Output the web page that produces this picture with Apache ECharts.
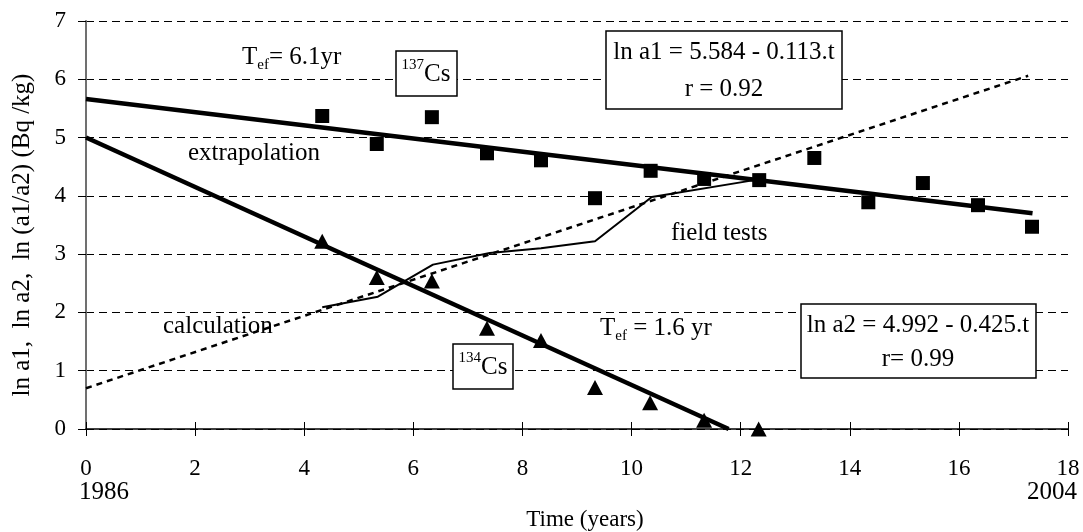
<!DOCTYPE html>
<html>
<head>
<meta charset="utf-8">
<script src="https://cdn.jsdelivr.net/npm/echarts@6/dist/echarts.min.js"></script>
<style>
html,body{margin:0;padding:0;background:#fff;}
#chart{width:1083px;height:532px;}
</style>
</head>
<body>
<div id="chart"></div>
<script>
// measured points (years after 1986)
var tMeas = [4.33, 5.33, 6.34, 7.35, 8.34, 9.33, 10.35, 11.33, 12.34, 13.35, 14.34, 15.34, 16.35, 17.34];
var lnA1 = [5.37, 4.89, 5.35, 4.73, 4.61, 3.96, 4.43, 4.29, 4.27, 4.65, 3.89, 4.22, 3.84, 3.47];
var tA2 = [4.33, 5.33, 6.34, 7.35, 8.34, 9.33, 10.34, 11.33, 12.33];
var lnA2 = [3.22, 2.60, 2.54, 1.73, 1.52, 0.71, 0.45, 0.15, 0.0];
// fitted lines at their ends
var fit1T = [0, 17.35];
var fit1Y = [5.66, 3.70];
var fit2T = [0, 11.78];
var fit2Y = [5.0, 0.0];
// calculation (dotted) and field tests (thin)
var calcT = [0, 17.27];
var calcY = [0.70, 6.06];
var fieldT = [4.33, 5.35, 6.36, 7.40, 8.34, 9.33, 10.37, 12.25];
var fieldY = [2.09, 2.27, 2.82, 3.02, 3.10, 3.22, 3.98, 4.27];
var yearLabels = ['1986', '2004'];

var FONT = 'Liberation Serif';

function pairs(xs, ys) {
  return xs.map(function (x, i) { return [x, ys[i]]; });
}

var sizeTxt = 25;
var rich = {
  m: {fontFamily: FONT, fontSize: sizeTxt, lineHeight: 32, color: '#000'},
  sub: {fontFamily: FONT, fontSize: 15, verticalAlign: 'bottom', color: '#000'},
  sup: {fontFamily: FONT, fontSize: 15, verticalAlign: 'top', color: '#000'}
};

function txt(x, y, text, align) {
  return {
    type: 'text', x: x, y: y, z: 100,
    style: {text: text, rich: rich, align: align || 'left', verticalAlign: 'middle',
      fontFamily: FONT, fontSize: sizeTxt, fill: '#000'}
  };
}
function box(x, y, w, h) {
  return {
    type: 'rect', z: 90,
    shape: {x: x, y: y, width: w, height: h},
    style: {fill: '#fff', stroke: '#000', lineWidth: 1.5}
  };
}

var option = {
  backgroundColor: '#fff',
  animation: false,
  textStyle: {fontFamily: FONT},
  grid: {left: 86, right: 15, top: 21, bottom: 103, outerBoundsMode: 'none', containLabel: false},
  xAxis: [{
    type: 'value', min: 0, max: 18, interval: 2,
    name: 'Time (years)', nameLocation: 'middle', nameGap: 79,
    nameTextStyle: {fontFamily: FONT, fontSize: 23, color: '#000', padding: [0, 0, 0, 16]},
    axisLine: {onZero: false, lineStyle: {color: '#000', width: 1.5}},
    axisTick: {length: 7, lineStyle: {color: '#000', width: 1}},
    axisLabel: {margin: 28, fontFamily: FONT, fontSize: 23, color: '#000'},
    splitLine: {show: false}
  }, {
    type: 'value', min: 0, max: 18, interval: 2, position: 'bottom',
    axisLine: {show: false},
    axisTick: {inside: true, length: 7, lineStyle: {color: '#000', width: 1}},
    axisLabel: {show: false},
    splitLine: {show: false}
  }],
  yAxis: [{
    type: 'value', min: 0, max: 7, interval: 1,
    name: 'ln a1,  ln a2,  ln (a1/a2) (Bq /kg)', nameLocation: 'middle', nameGap: 51,
    nameTextStyle: {fontFamily: FONT, fontSize: 25, color: '#000', padding: [0, 20, 0, 0]},
    axisLine: {onZero: false, lineStyle: {color: '#000', width: 1.5}},
    axisTick: {length: 8, lineStyle: {color: '#000', width: 1}},
    axisLabel: {margin: 20, fontFamily: FONT, fontSize: 23, color: '#000'},
    splitLine: {lineStyle: {color: '#000', width: 1, type: [8, 5]}}
  }, {
    type: 'value', min: 0, max: 7, interval: 1, position: 'right',
    axisLine: {show: true, lineStyle: {color: '#808080', width: 1.5}},
    axisTick: {show: false},
    axisLabel: {show: false},
    splitLine: {show: false}
  }],
  series: [{
    name: 'fit137', type: 'line', data: pairs(fit1T, fit1Y),
    showSymbol: false, symbol: 'none',
    lineStyle: {color: '#000', width: 4.5}, z: 3
  }, {
    name: 'fit134', type: 'line', data: pairs(fit2T, fit2Y),
    showSymbol: false, symbol: 'none',
    lineStyle: {color: '#000', width: 4.5}, z: 3
  }, {
    name: 'calculation', type: 'line', data: pairs(calcT, calcY),
    showSymbol: false, symbol: 'none',
    lineStyle: {color: '#000', width: 2.5, type: [6, 5]}, z: 2
  }, {
    name: 'field tests', type: 'line', data: pairs(fieldT, fieldY),
    showSymbol: false, symbol: 'none',
    lineStyle: {color: '#000', width: 2}, z: 2
  }, {
    name: '137Cs', type: 'scatter', data: pairs(tMeas, lnA1),
    symbol: 'rect', symbolSize: 14, clip: false,
    itemStyle: {color: '#000', opacity: 1}, z: 4
  }, {
    name: '134Cs', type: 'scatter', data: pairs(tA2, lnA2),
    symbol: 'triangle', symbolSize: [16, 15], clip: false,
    itemStyle: {color: '#000', opacity: 1}, z: 4
  }],
  graphic: [
    txt(242, 57, '{m|T}{sub|ef}{m|= 6.1yr}'),
    txt(188, 153, '{m|extrapolation}'),
    box(396, 51, 61, 45),
    txt(426, 74, '{sup|137}{m|Cs}', 'center'),
    box(606, 31, 236, 78),
    txt(724, 52, '{m|ln a1 = 5.584 - 0.113.t}', 'center'),
    txt(724, 89, '{m|r = 0.92}', 'center'),
    txt(671, 233, '{m|field tests}'),
    txt(163, 326, '{m|calculation}'),
    txt(600, 328, '{m|T}{sub|ef}{m| = 1.6 yr}'),
    box(453, 344, 60, 45),
    txt(483, 367, '{sup|134}{m|Cs}', 'center'),
    box(801, 304, 235, 74),
    txt(918, 325, '{m|ln a2 = 4.992 - 0.425.t}', 'center'),
    txt(918, 359, '{m|r= 0.99}', 'center'),
    txt(79, 492, '{m|' + yearLabels[0] + '}', 'left'),
    txt(1077, 492, '{m|' + yearLabels[1] + '}', 'right')
  ]
};

var myChart = echarts.init(document.getElementById('chart'));
myChart.setOption(option);
</script>
</body>
</html>
